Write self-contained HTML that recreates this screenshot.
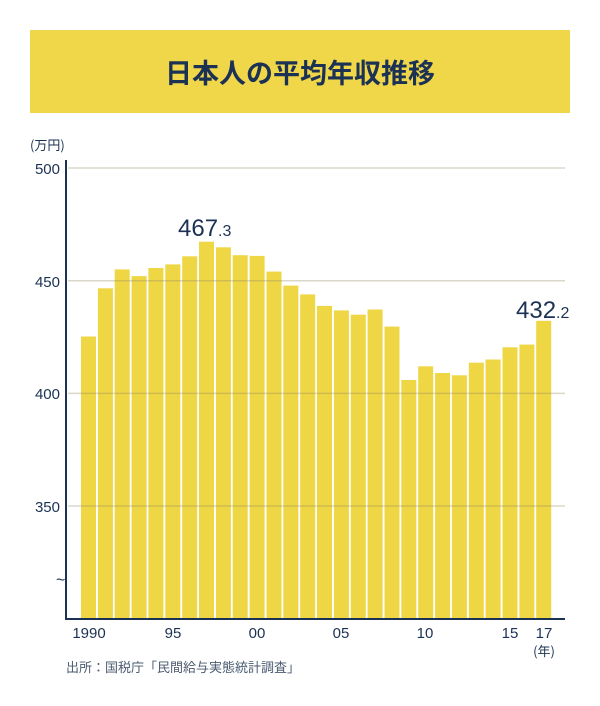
<!DOCTYPE html>
<html><head><meta charset="utf-8"><style>
body{margin:0;width:600px;height:701px;background:#fff;overflow:hidden;font-family:"Liberation Sans","Noto Sans CJK JP",sans-serif}
</style></head><body>
<svg width="600" height="701" xmlns="http://www.w3.org/2000/svg" font-family="Liberation Sans, Noto Sans CJK JP, sans-serif">
<rect x="30" y="30" width="540" height="83" fill="#f0d74a"/>
<text x="300" y="83" text-anchor="middle" font-size="27" font-weight="bold" fill="#1c3254" font-family="Noto Sans CJK JP, sans-serif">日本人の平均年収推移</text>
<text x="30" y="150" font-size="13" fill="#1c3254" font-family="Noto Sans CJK JP, sans-serif">(万円)</text>
<g id="bars" fill="#efd644"></g>
<g stroke="rgba(150,140,100,0.35)" stroke-width="1.5">
<line x1="68" x2="565" y1="168" y2="168"/><line x1="68" x2="565" y1="280.7" y2="280.7"/>
<line x1="68" x2="565" y1="393.4" y2="393.4"/><line x1="68" x2="565" y1="506" y2="506"/>
</g>
<line x1="66" y1="160" x2="66" y2="619" stroke="#1c3254" stroke-width="2"/>
<line x1="65" y1="619" x2="565" y2="619" stroke="#1c3254" stroke-width="2"/>
<g font-size="15" fill="#1c3254" text-anchor="end">
<text x="60" y="174">500</text><text x="60" y="287">450</text><text x="60" y="399">400</text><text x="60" y="512">350</text>
</g>
<text x="56" y="585" font-size="16" fill="#1c3254">~</text>
<g font-size="15" fill="#1c3254" text-anchor="middle">
<text x="89" y="638">1990</text><text x="173" y="638">95</text><text x="257" y="638">00</text><text x="341" y="638">05</text><text x="425" y="638">10</text><text x="510" y="638">15</text><text x="544" y="638">17</text>
</g>
<text x="544" y="656" font-size="13" fill="#1c3254" text-anchor="middle" font-family="Noto Sans CJK JP, sans-serif">(年)</text>
<text x="66" y="672" font-size="13" fill="#4a5a70" font-family="Noto Sans CJK JP, sans-serif">出所：国税庁「民間給与実態統計調査」</text>
<text x="178" y="236" font-size="24" fill="#1c3254">467<tspan font-size="16">.3</tspan></text>
<text x="516" y="318" font-size="24" fill="#1c3254">432<tspan font-size="16">.2</tspan></text>
</svg>
<script>
var d=[425.2,446.6,455,452,455.6,457.2,460.8,467.3,464.8,461.3,461,454,447.8,443.9,438.8,436.8,434.9,437.2,429.6,405.9,412,409,408,413.6,415,420.4,421.6,432.2];
var g=document.getElementById('bars'),s='';
for(var i=0;i<d.length;i++){var x=81+i*16.86,y=168+(500-d[i])*2.253;
s+='<rect x="'+x.toFixed(1)+'" y="'+y.toFixed(1)+'" width="15" height="'+(619-y).toFixed(1)+'"/>';}
g.innerHTML=s;
</script>
</body></html>
